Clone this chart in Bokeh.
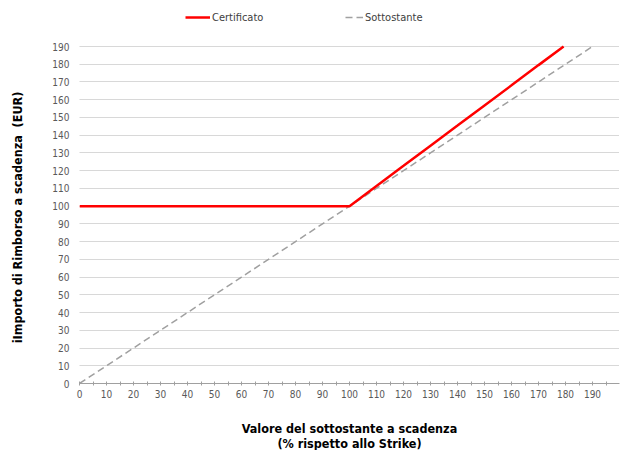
from bokeh.plotting import figure
from bokeh.models import Range1d, Legend, LegendItem, FixedTicker
from bokeh.embed import file_html
from bokeh.resources import INLINE

# Data
x_cert = [0, 10, 20, 30, 40, 50, 60, 70, 80, 90, 100, 110, 120, 130, 140, 150, 160, 170, 179.3]
y_cert = [100, 100, 100, 100, 100, 100, 100, 100, 100, 100, 100, 111.4, 122.7, 134.1, 145.4, 156.8, 168.1, 179.5, 190]
x_sott = [0, 10, 20, 30, 40, 50, 60, 70, 80, 90, 100, 110, 120, 130, 140, 150, 160, 170, 180, 190]
y_sott = [0, 10, 20, 30, 40, 50, 60, 70, 80, 90, 100, 110, 120, 130, 140, 150, 160, 170, 180, 190]
x_ticks = [0, 10, 20, 30, 40, 50, 60, 70, 80, 90, 100, 110, 120, 130, 140, 150, 160, 170, 180, 190]
x_minor = [5, 15, 25, 35, 45, 55, 65, 75, 85, 95, 105, 115, 125, 135, 145, 155, 165, 175, 185, 195]
y_ticks = [0, 10, 20, 30, 40, 50, 60, 70, 80, 90, 100, 110, 120, 130, 140, 150, 160, 170, 180, 190]

FONT = "'DejaVu Sans Condensed', 'Liberation Sans Narrow', 'Roboto', sans-serif"

# frame extended above 190 so the legend can sit inside it (same px/unit as a 337px-high 0..190 frame)
p = figure(frame_width=540, frame_height=379, output_backend="svg", toolbar_location=None,
           x_range=Range1d(0, 200), y_range=Range1d(0, 213.68),
           min_border_left=79, min_border_right=1, min_border_top=4, min_border_bottom=10)
p.outline_line_color = None
p.background_fill_color = "white"

# grid
p.xgrid.grid_line_color = None
p.ygrid.grid_line_color = "#b0b0b0"
p.ygrid.grid_line_dash = "1 1"
p.ygrid.grid_line_width = 1

# axes
p.xaxis.ticker = FixedTicker(ticks=x_ticks, minor_ticks=x_minor)
p.yaxis.ticker = FixedTicker(ticks=y_ticks)
p.xaxis.axis_line_color = "#a0a0a0"
p.xaxis.major_tick_line_color = "#a0a0a0"
p.xaxis.minor_tick_line_color = "#a0a0a0"
p.xaxis.major_tick_in = 2
p.xaxis.major_tick_out = 2
p.xaxis.minor_tick_in = 2
p.xaxis.minor_tick_out = 2
p.yaxis.axis_line_color = None
p.yaxis.major_tick_line_color = None
p.yaxis.minor_tick_line_color = None
p.yaxis.major_tick_in = 0
p.yaxis.major_tick_out = 0
p.yaxis.minor_tick_in = 0
p.yaxis.minor_tick_out = 0

for ax in (p.xaxis, p.yaxis):
    ax.major_label_text_font = FONT
    ax.major_label_text_font_size = "10px"
    ax.major_label_text_color = "#595959"
    ax.axis_label_text_font = FONT
    ax.axis_label_text_font_style = "bold"
    ax.axis_label_text_color = "black"
    ax.axis_label_text_font_size = "12.5px"

p.xaxis.axis_label_text_line_height = 1.0
p.yaxis.major_label_standoff = 10
p.xaxis.major_label_standoff = 4
p.xaxis.axis_label = "Valore del sottostante a scadenza\n(% rispetto allo Strike)"
p.xaxis.axis_label_standoff = 20
# trailing no-break spaces shift the (frame-centred) label down to where the reference has it
p.yaxis.axis_label = "iImporto di Rimborso a scadenza \u00a0(EUR)" + "\u00a0" * 12
p.yaxis.axis_label_standoff = 24

r_sott = p.line(x_sott, y_sott, line_color="#a0a0a0", line_width=1.5, line_dash="7 4")
r_cert = p.line(x_cert, y_cert, line_color="#ff0000", line_width=2.5)

def mk_legend(label, r, x, gw):
    lg = Legend(items=[LegendItem(label=label, renderers=[r])], location=(x, 359),
                orientation="horizontal", border_line_color=None, background_fill_alpha=0,
                glyph_width=gw, glyph_height=14, label_standoff=2, padding=0, margin=0,
                label_text_font=FONT, label_text_font_size="11px", label_text_color="#404040")
    p.add_layout(lg, "center")

mk_legend("Certificato", r_cert, 106, 25)
mk_legend("Sottostante", r_sott, 266, 18)

open("out.html", "w").write(file_html(p, INLINE))
